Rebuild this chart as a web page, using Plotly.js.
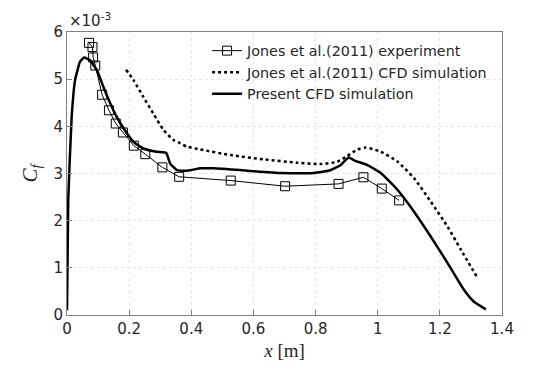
<!DOCTYPE html>
<html><head><meta charset="utf-8">
<script src="https://cdn.plot.ly/plotly-3.0.1.min.js"></script>
<style>body{margin:0;background:#fff}#c{width:550px;height:379px}</style>
</head><body><div id="c"></div>
<script>
// Jones et al. (2011) experiment (Cf in units of 1e-3)
const expX = [0.071,0.082,0.084,0.091,0.113,0.135,0.157,0.180,0.215,0.252,0.307,0.361,0.527,0.702,0.874,0.954,1.013,1.069];
const expY = [5.77,5.68,5.46,5.29,4.67,4.34,4.06,3.87,3.59,3.41,3.13,2.93,2.85,2.73,2.78,2.92,2.68,2.43];
// Jones et al. (2011) CFD simulation
const jcfdX = [0.19,0.214,0.246,0.278,0.311,0.343,0.365,0.386,0.429,0.527,0.633,0.741,0.816,0.870,0.902,0.935,0.961,1.010,1.064,1.117,1.171,1.225,1.268,1.319];
const jcfdY = [5.20,4.98,4.62,4.27,3.92,3.71,3.64,3.57,3.51,3.39,3.30,3.23,3.20,3.25,3.37,3.51,3.55,3.46,3.25,2.90,2.40,1.87,1.38,0.81];
// Present CFD simulation
const pX = [0.0,0.004,0.015,0.026,0.042,0.055,0.074,0.096,0.117,0.139,0.160,0.182,0.214,0.246,0.289,0.319,0.332,0.354,0.365,0.397,0.429,0.472,0.580,0.687,0.795,0.848,0.881,0.902,0.907,0.924,0.967,1.010,1.064,1.117,1.171,1.225,1.278,1.310,1.348];
const pY = [0.10,2.44,4.20,4.98,5.37,5.46,5.40,5.19,4.84,4.49,4.20,3.96,3.67,3.53,3.46,3.44,3.21,3.07,3.06,3.07,3.11,3.11,3.06,3.01,3.01,3.07,3.18,3.32,3.34,3.28,3.18,3.01,2.65,2.19,1.66,1.10,0.53,0.28,0.12];
const xTicks = [0,0.2,0.4,0.6,0.8,1,1.2,1.4];
const yTicks = [0,1,2,3,4,5,6];

const txt = '#262626';
const traces = [
  {x: expX, y: expY, mode: 'lines+markers', name: 'Jones et al.(2011) experiment',
   line: {color: '#000', width: 1}, marker: {symbol: 'square-open', size: 9, color: '#000', line: {width: 1}}},
  {x: jcfdX, y: jcfdY, mode: 'lines', name: 'Jones et al.(2011) CFD simulation', line: {color: '#000', width: 2.5, dash: 'dot', shape: 'spline', smoothing: 0.6}},
  {x: pX, y: pY, mode: 'lines', name: 'Present CFD simulation', line: {color: '#000', width: 2.5, shape: 'spline', smoothing: 0.4}}
];
const axisCommon = {showline: true, mirror: true, linecolor: '#808080', linewidth: 1,
  ticks: 'inside', ticklen: 5, tickcolor: '#808080', showgrid: true, gridcolor: '#e6e6e6', griddash: 'dot', gridwidth: 1,
  zeroline: false, tickfont: {family: 'DejaVu Sans', size: 15, color: txt}};
const layout = {
  width: 550, height: 379, margin: {l: 67, r: 48, t: 32, b: 64},
  paper_bgcolor: '#fff', plot_bgcolor: '#fff', showlegend: true,
  legend: {x: 0.322, y: 0.99, xanchor: 'left', yanchor: 'top', bgcolor: 'rgba(0,0,0,0)',
    font: {family: 'DejaVu Sans', size: 14.3, color: txt}, tracegroupgap: 0, itemwidth: 30},
  xaxis: Object.assign({}, axisCommon, {range: [0, 1.4], tickvals: xTicks, ticktext: xTicks.map(String),
    title: {text: '<i>x</i> [m]', font: {family: 'Liberation Serif', size: 19, color: txt}, standoff: 6}}),
  yaxis: Object.assign({}, axisCommon, {range: [0, 6], tickvals: yTicks, ticktext: yTicks.map(String),
    title: {text: '<i>C<sub>f</sub></i>', font: {family: 'Liberation Serif', size: 21, color: txt}, standoff: 10}}),
  annotations: [{xref: 'paper', yref: 'paper', x: 0.0, y: 1.0, xanchor: 'left', yanchor: 'bottom', showarrow: false,
    text: '×10<sup>-3</sup>', font: {family: 'DejaVu Sans', size: 15, color: txt}, yshift: 0}]
};
Plotly.newPlot('c', traces, layout, {displayModeBar: false, staticPlot: true});
</script></body></html>
